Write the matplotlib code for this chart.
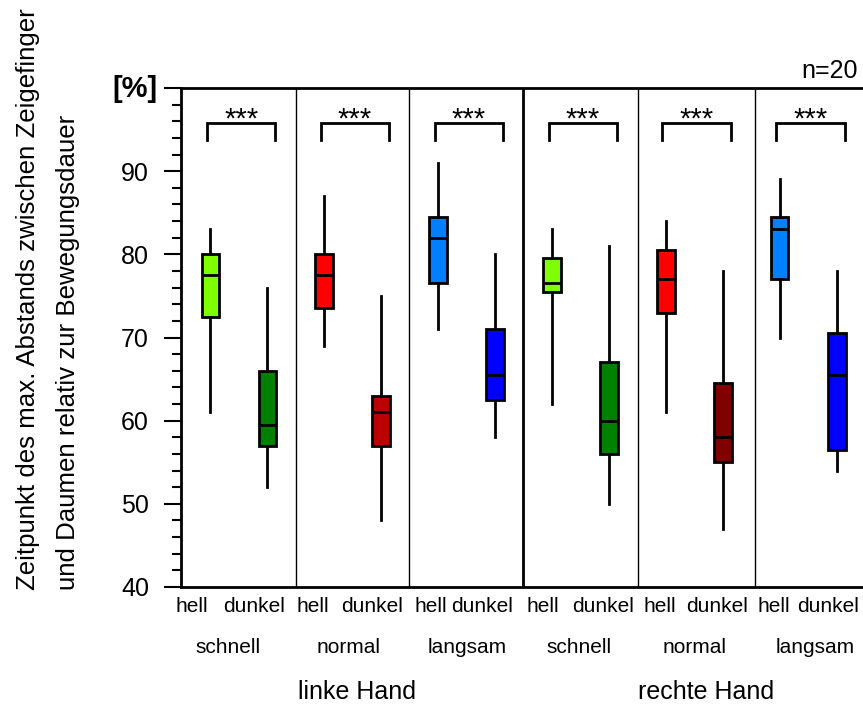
import matplotlib
matplotlib.use("Agg")
import matplotlib.pyplot as plt
from matplotlib.ticker import MultipleLocator

plt.rcParams['font.family'] = ['Liberation Sans', 'DejaVu Sans']

# ---- data -------------------------------------------------------------
hands = ["linke Hand", "rechte Hand"]
speeds = ["schnell", "normal", "langsam", "schnell", "normal", "langsam"]
conditions = ["hell", "dunkel"]

# per group: (whisker low, q1, median, q3, whisker high)
hell_stats = [
    (61.0, 72.5, 77.5, 80.0, 83.0),
    (69.0, 73.5, 77.5, 80.0, 87.0),
    (71.0, 76.5, 82.0, 84.5, 91.0),
    (62.0, 75.5, 76.5, 79.5, 83.0),
    (61.0, 73.0, 77.0, 80.5, 84.0),
    (70.0, 77.0, 83.0, 84.5, 89.0),
]
dunkel_stats = [
    (52.0, 57.0, 59.5, 66.0, 76.0),
    (48.0, 57.0, 61.0, 63.0, 75.0),
    (58.0, 62.5, 65.5, 71.0, 80.0),
    (50.0, 56.0, 60.0, 67.0, 81.0),
    (47.0, 55.0, 58.0, 64.5, 78.0),
    (54.0, 56.5, 65.5, 70.5, 78.0),
]
hell_colors = ["#80ff00", "#ff0000", "#0080ff", "#80ff00", "#ff0000", "#0080ff"]
dunkel_colors = ["#008000", "#bb0000", "#0000ff", "#008000", "#800000", "#0000ff"]
significance = ["***"] * 6
n_label = "n=20"
y_ticks = [40, 50, 60, 70, 80, 90]
y_unit = "[%]"

# ---- layout -----------------------------------------------------------
W, H = 863, 704
fig = plt.figure(figsize=(W / 100, H / 100), dpi=100)
ax = fig.add_axes([181 / W, 117 / H, (W - 181) / W, 499 / H])

ngroups = len(speeds)
hell_pos = [i + 0.258 for i in range(ngroups)]
dunkel_pos = [i + 0.759 for i in range(ngroups)]
hell_label_x = [0.097, 1.157, 2.192, 3.178, 4.205, 5.203]
dunkel_label_x = [0.641, 1.677, 2.643, 3.711, 4.712, 5.680]
speed_label_x = [0.41, 1.475, 2.51, 3.50, 4.51, 5.57]
hand_label_x = [1.545, 4.615]
divider_x = [1.01, 2.0, 3.0, 4.01, 5.04]
divider_lw = [1.0, 1.0, 2.0, 1.0, 1.0]


def to_bxp(stats):
    lo, q1, med, q3, hi = stats
    return dict(whislo=lo, q1=q1, med=med, q3=q3, whishi=hi, fliers=[])


all_stats, all_pos, all_cols = [], [], []
for i in range(ngroups):
    all_stats += [to_bxp(hell_stats[i]), to_bxp(dunkel_stats[i])]
    all_pos += [hell_pos[i], dunkel_pos[i]]
    all_cols += [hell_colors[i], dunkel_colors[i]]

bp = ax.bxp(all_stats, positions=all_pos, widths=0.155, patch_artist=True,
            showfliers=False, showcaps=False,
            boxprops=dict(linewidth=2.0, edgecolor="black"),
            medianprops=dict(color="black", linewidth=2.0),
            whiskerprops=dict(color="black", linewidth=2.0))
for patch, c in zip(bp["boxes"], all_cols):
    patch.set_facecolor(c)
for m in bp["medians"]:
    m.set_zorder(4)

ax.set_xlim(0, 5.99)
ax.set_ylim(40, 100)

for xd, lw in zip(divider_x, divider_lw):
    ax.axvline(xd, color="black", linewidth=lw, zorder=1)

for s in ["left", "bottom", "top"]:
    ax.spines[s].set_linewidth(2.0)
ax.spines["right"].set_visible(False)

ax.yaxis.set_minor_locator(MultipleLocator(2))
ax.set_yticks(y_ticks + [100])
ax.set_yticklabels([str(t) for t in y_ticks] + [""])
ax.tick_params(axis="y", which="major", direction="out", length=12, width=1.5,
               labelsize=18, pad=11)
ax.tick_params(axis="y", which="minor", direction="out", length=6.5, width=1.5)
ax.set_xticks([])

fig.text(157 / W, 1 - 89 / H, y_unit, ha="right", va="center", fontsize=21,
         fontweight="bold")

# significance brackets
for i in range(ngroups):
    x0 = hell_pos[i] - 0.03
    x1 = dunkel_pos[i] + 0.07
    ax.plot([x0, x0, x1, x1], [93.8, 95.85, 95.85, 93.8], color="black",
            linewidth=2.0, solid_joinstyle="miter", clip_on=False, zorder=5)
    ax.text((x0 + x1) / 2, 95.3, significance[i], ha="center", va="baseline",
            fontsize=21)

fig.text(858 / W, 1 - 78 / H, n_label, ha="right", va="baseline", fontsize=18)

trans = ax.get_xaxis_transform()
for i in range(ngroups):
    ax.text(hell_label_x[i], -0.040, conditions[0], transform=trans,
            ha="center", va="center", fontsize=15)
    ax.text(dunkel_label_x[i], -0.040, conditions[1], transform=trans,
            ha="center", va="center", fontsize=15)
    ax.text(speed_label_x[i], -0.122, speeds[i], transform=trans,
            ha="center", va="center", fontsize=15)
for hx, hname in zip(hand_label_x, hands):
    ax.text(hx, -0.210, hname, transform=trans, ha="center", va="center",
            fontsize=18)

fig.text(28 / W, 1 - 590 / H, "Zeitpunkt des max. Abstands zwischen Zeigefinger",
         rotation=90, ha="center", va="bottom", fontsize=18.6)
fig.text(68 / W, 1 - 590 / H, "und Daumen relativ zur Bewegungsdauer",
         rotation=90, ha="center", va="bottom", fontsize=18.6)

fig.savefig("out.png", dpi=100)
